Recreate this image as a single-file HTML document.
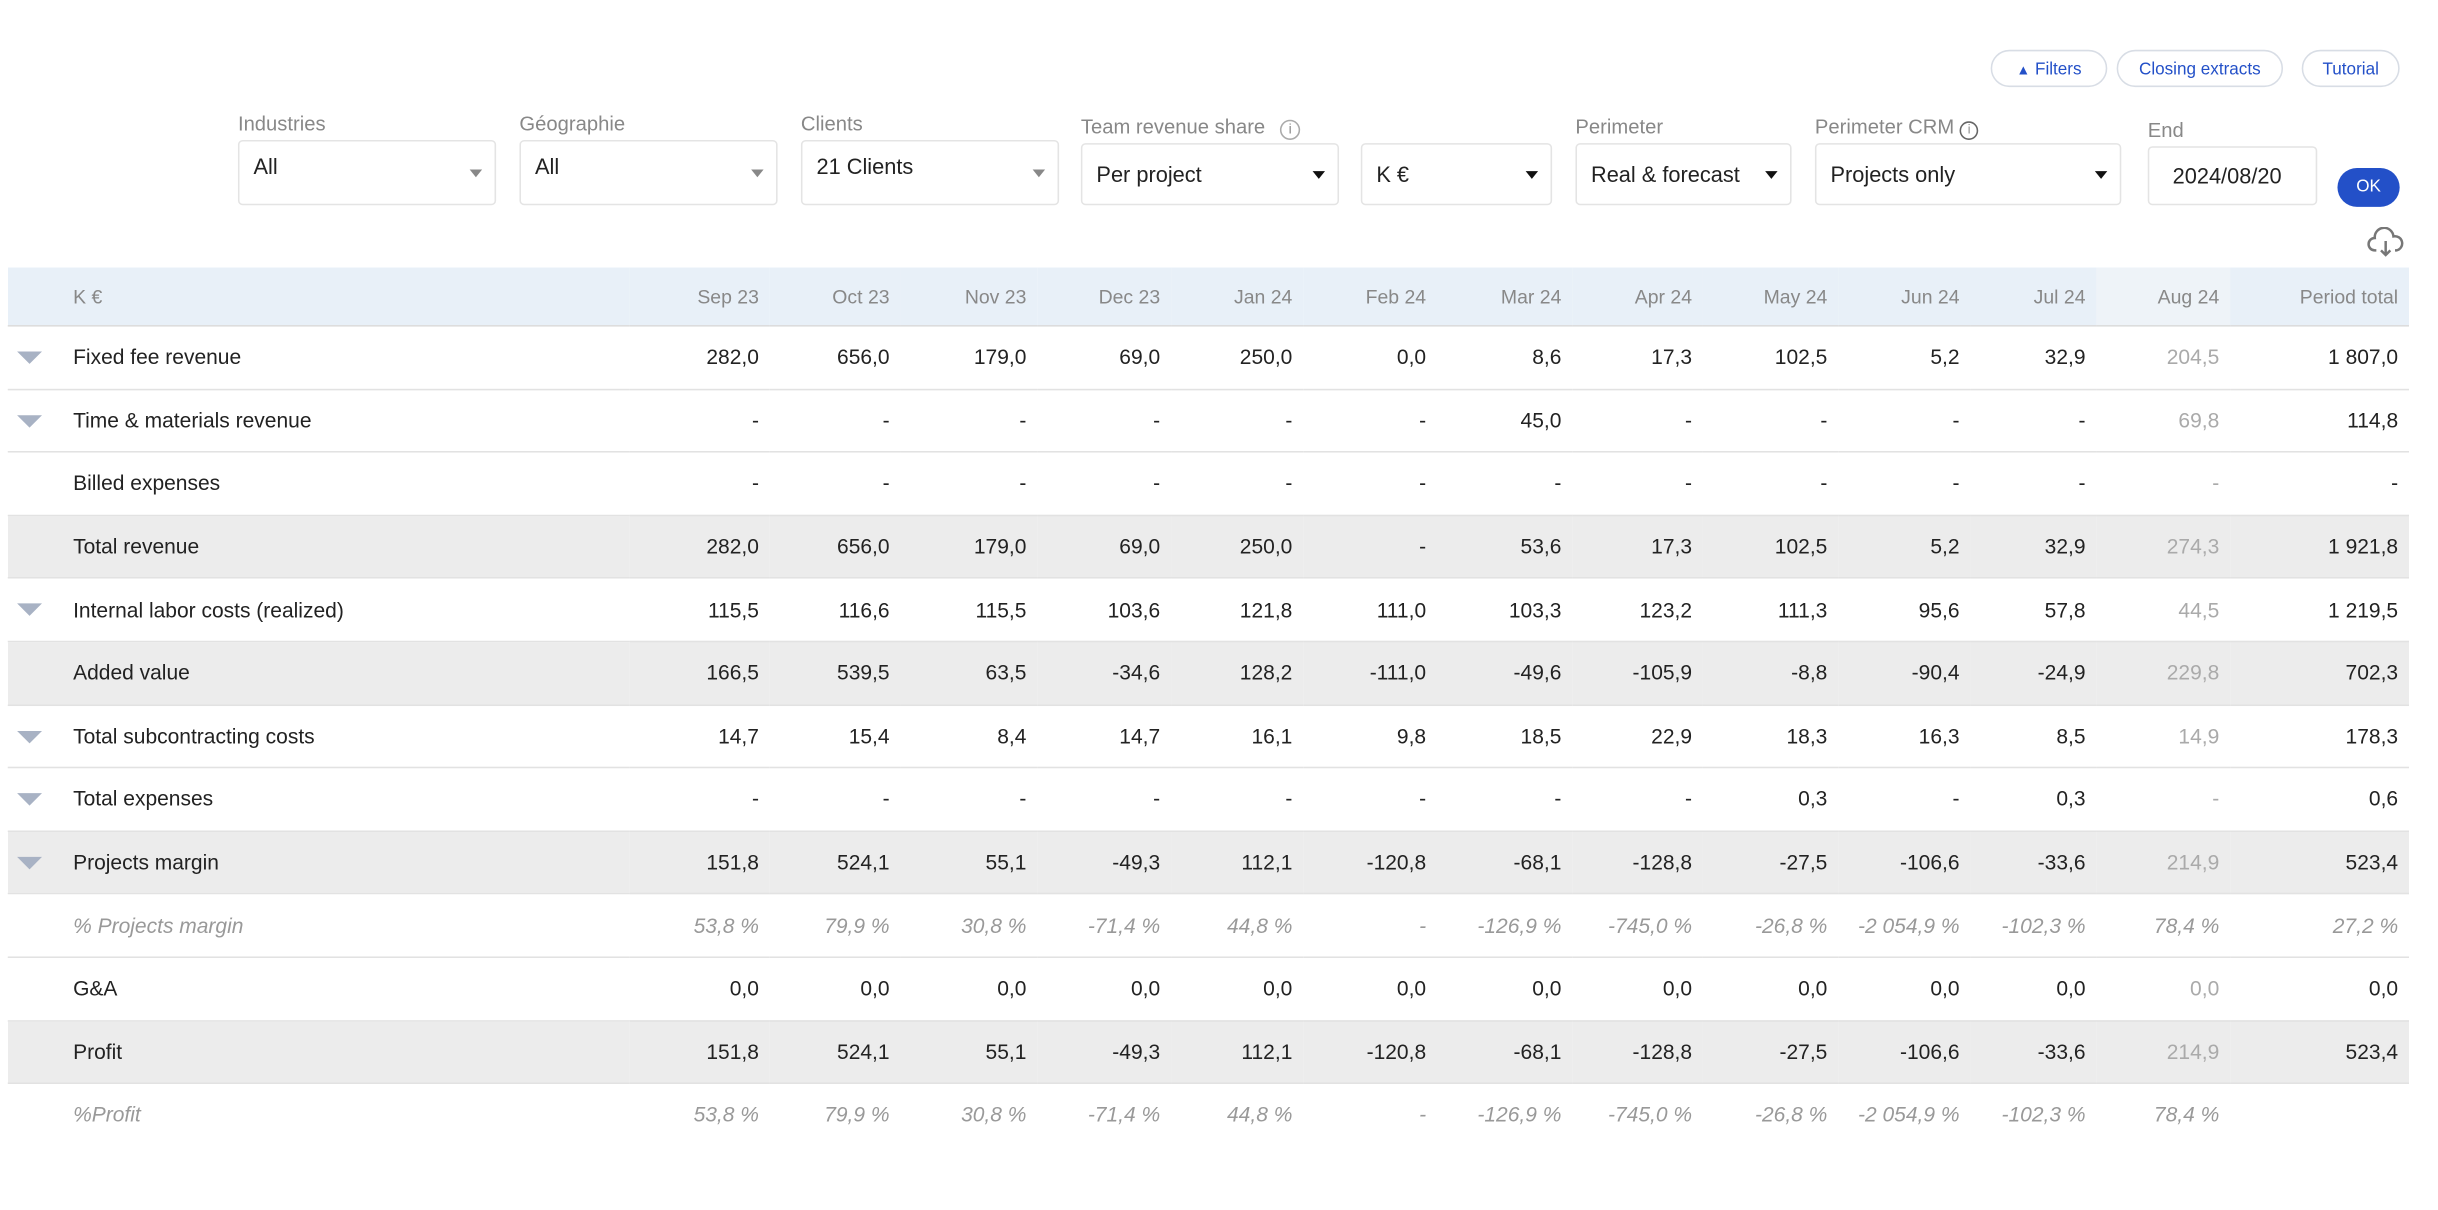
<!DOCTYPE html>
<html><head><meta charset="utf-8"><style>
html,body{margin:0;padding:0;background:#fff;width:2438px;height:1210px;overflow:hidden}
#w{position:absolute;left:0;top:0;width:1568px;height:778px;transform:scale(1.5552);transform-origin:0 0;font-family:"Liberation Sans",sans-serif;color:#222}
.btn{position:absolute;top:32px;height:24px;border:1px solid #d8dde5;border-radius:13px;color:#2350c8;font-size:11px;line-height:24px;text-align:center;box-sizing:border-box}
.lbl{position:absolute;font-size:13px;color:#888}
.box{position:absolute;border:1px solid #e4e4e4;border-radius:3px;box-sizing:border-box;font-size:14px;color:#222}
.box span{position:absolute;left:9px;top:50%;transform:translateY(-50%)}
.box i{position:absolute;right:8px;top:50%;margin-top:-2px;width:0;height:0;border-left:4px solid transparent;border-right:4px solid transparent;border-top:5px solid #888}
.box.d i{border-top-color:#111}
table{position:absolute;left:5px;top:172px;border-collapse:collapse;table-layout:fixed;width:1544px;font-size:13.5px}
td,th{padding:0 7px 0 0;text-align:right;white-space:nowrap}
th{height:37px;background:#e8f0f8;color:#888;font-weight:normal;font-size:12.5px;border-bottom:1px solid #dcdcdc}
th.a{background:#eef3f8}
td{height:39.6px;border-bottom:1px solid #e2e2e2}
td:first-child,th:first-child{text-align:left;padding-left:42px;position:relative}
tr.g td{background:#ececec}
tr.p td{color:#999;font-style:italic}
td.a{color:#aaa}
.t{position:absolute;left:6px;top:16px;width:0;height:0;border-left:8px solid transparent;border-right:8px solid transparent;border-top:8px solid #a8b2c4}
</style></head><body><div id="w">
<div class="btn" style="left:1280px;width:75px"><span style="font-size:9px">▲</span> Filters</div>
<div class="btn" style="left:1361px;width:107px">Closing extracts</div>
<div class="btn" style="left:1480px;width:63px">Tutorial</div>

<div class="lbl" style="left:153px;top:72px">Industries</div>
<div class="lbl" style="left:334px;top:72px">Géographie</div>
<div class="lbl" style="left:515px;top:72px">Clients</div>
<div class="lbl" style="left:695px;top:74px">Team revenue share <span style="display:inline-block;width:11px;height:11px;border:1px solid #aaa;border-radius:50%;font-size:9px;line-height:11px;text-align:center;margin-left:6px">i</span></div>
<div class="lbl" style="left:1013px;top:74px">Perimeter</div>
<div class="lbl" style="left:1167px;top:74px">Perimeter CRM <span style="display:inline-block;width:10px;height:10px;border:1px solid #666;border-radius:50%;font-size:8px;line-height:10px;text-align:center">i</span></div>
<div class="lbl" style="left:1381px;top:76px">End</div>

<div class="box" style="left:153px;top:90px;width:166px;height:42px"><span style="top:40%">All</span><i></i></div>
<div class="box" style="left:334px;top:90px;width:166px;height:42px"><span style="top:40%">All</span><i></i></div>
<div class="box" style="left:515px;top:90px;width:166px;height:42px"><span style="top:40%">21 Clients</span><i></i></div>
<div class="box d" style="left:695px;top:92px;width:166px;height:40px"><span>Per project</span><i></i></div>
<div class="box d" style="left:875px;top:92px;width:123px;height:40px"><span>K €</span><i></i></div>
<div class="box d" style="left:1013px;top:92px;width:139px;height:40px"><span>Real &amp; forecast</span><i></i></div>
<div class="box d" style="left:1167px;top:92px;width:197px;height:40px"><span>Projects only</span><i></i></div>
<div class="box" style="left:1381px;top:94px;width:109px;height:38px"><span style="left:15px">2024/08/20</span></div>
<div style="position:absolute;left:1503px;top:108px;width:40px;height:25px;border-radius:13px;background:#2350c8;color:#fff;font-size:11px;line-height:25px;text-align:center">OK</div>
<svg style="position:absolute;left:1522px;top:146px" width="24" height="20" viewBox="0 0 24 20"><path d="M6 15 H5 A4 4 0 0 1 5 7 A6 6 0 0 1 17 6 A4.5 4.5 0 0 1 19 15 H18" fill="none" stroke="#777" stroke-width="1.6"/><path d="M12 9 V18 M9 15 L12 18 L15 15" fill="none" stroke="#777" stroke-width="1.6"/></svg>

<table>
<colgroup><col style="width:400px"><col style="width:90px"><col style="width:84px"><col style="width:88px"><col style="width:86px"><col style="width:85px"><col style="width:86px"><col style="width:87px"><col style="width:84px"><col style="width:87px"><col style="width:85px"><col style="width:81px"><col style="width:86px"><col style="width:115px"></colgroup>
<tr><th>K €</th><th>Sep 23</th><th>Oct 23</th><th>Nov 23</th><th>Dec 23</th><th>Jan 24</th><th>Feb 24</th><th>Mar 24</th><th>Apr 24</th><th>May 24</th><th>Jun 24</th><th>Jul 24</th><th class="a">Aug 24</th><th>Period total</th></tr>
<tr><td><b class="t"></b>Fixed fee revenue</td><td>282,0</td><td>656,0</td><td>179,0</td><td>69,0</td><td>250,0</td><td>0,0</td><td>8,6</td><td>17,3</td><td>102,5</td><td>5,2</td><td>32,9</td><td class="a">204,5</td><td>1 807,0</td></tr>
<tr><td><b class="t"></b>Time &amp; materials revenue</td><td>-</td><td>-</td><td>-</td><td>-</td><td>-</td><td>-</td><td>45,0</td><td>-</td><td>-</td><td>-</td><td>-</td><td class="a">69,8</td><td>114,8</td></tr>
<tr><td>Billed expenses</td><td>-</td><td>-</td><td>-</td><td>-</td><td>-</td><td>-</td><td>-</td><td>-</td><td>-</td><td>-</td><td>-</td><td class="a">-</td><td>-</td></tr>
<tr class="g"><td>Total revenue</td><td>282,0</td><td>656,0</td><td>179,0</td><td>69,0</td><td>250,0</td><td>-</td><td>53,6</td><td>17,3</td><td>102,5</td><td>5,2</td><td>32,9</td><td class="a">274,3</td><td>1 921,8</td></tr>
<tr><td><b class="t"></b>Internal labor costs (realized)</td><td>115,5</td><td>116,6</td><td>115,5</td><td>103,6</td><td>121,8</td><td>111,0</td><td>103,3</td><td>123,2</td><td>111,3</td><td>95,6</td><td>57,8</td><td class="a">44,5</td><td>1 219,5</td></tr>
<tr class="g"><td>Added value</td><td>166,5</td><td>539,5</td><td>63,5</td><td>-34,6</td><td>128,2</td><td>-111,0</td><td>-49,6</td><td>-105,9</td><td>-8,8</td><td>-90,4</td><td>-24,9</td><td class="a">229,8</td><td>702,3</td></tr>
<tr><td><b class="t"></b>Total subcontracting costs</td><td>14,7</td><td>15,4</td><td>8,4</td><td>14,7</td><td>16,1</td><td>9,8</td><td>18,5</td><td>22,9</td><td>18,3</td><td>16,3</td><td>8,5</td><td class="a">14,9</td><td>178,3</td></tr>
<tr><td><b class="t"></b>Total expenses</td><td>-</td><td>-</td><td>-</td><td>-</td><td>-</td><td>-</td><td>-</td><td>-</td><td>0,3</td><td>-</td><td>0,3</td><td class="a">-</td><td>0,6</td></tr>
<tr class="g"><td><b class="t"></b>Projects margin</td><td>151,8</td><td>524,1</td><td>55,1</td><td>-49,3</td><td>112,1</td><td>-120,8</td><td>-68,1</td><td>-128,8</td><td>-27,5</td><td>-106,6</td><td>-33,6</td><td class="a">214,9</td><td>523,4</td></tr>
<tr class="p"><td>% Projects margin</td><td>53,8 %</td><td>79,9 %</td><td>30,8 %</td><td>-71,4 %</td><td>44,8 %</td><td>-</td><td>-126,9 %</td><td>-745,0 %</td><td>-26,8 %</td><td>-2 054,9 %</td><td>-102,3 %</td><td class="a">78,4 %</td><td>27,2 %</td></tr>
<tr><td>G&amp;A</td><td>0,0</td><td>0,0</td><td>0,0</td><td>0,0</td><td>0,0</td><td>0,0</td><td>0,0</td><td>0,0</td><td>0,0</td><td>0,0</td><td>0,0</td><td class="a">0,0</td><td>0,0</td></tr>
<tr class="g"><td>Profit</td><td>151,8</td><td>524,1</td><td>55,1</td><td>-49,3</td><td>112,1</td><td>-120,8</td><td>-68,1</td><td>-128,8</td><td>-27,5</td><td>-106,6</td><td>-33,6</td><td class="a">214,9</td><td>523,4</td></tr>
<tr class="p"><td style="border-bottom:none">%Profit</td><td style="border-bottom:none">53,8 %</td><td style="border-bottom:none">79,9 %</td><td style="border-bottom:none">30,8 %</td><td style="border-bottom:none">-71,4 %</td><td style="border-bottom:none">44,8 %</td><td style="border-bottom:none">-</td><td style="border-bottom:none">-126,9 %</td><td style="border-bottom:none">-745,0 %</td><td style="border-bottom:none">-26,8 %</td><td style="border-bottom:none">-2 054,9 %</td><td style="border-bottom:none">-102,3 %</td><td class="a" style="border-bottom:none">78,4 %</td><td style="border-bottom:none"></td></tr>
</table>
</div></body></html>
